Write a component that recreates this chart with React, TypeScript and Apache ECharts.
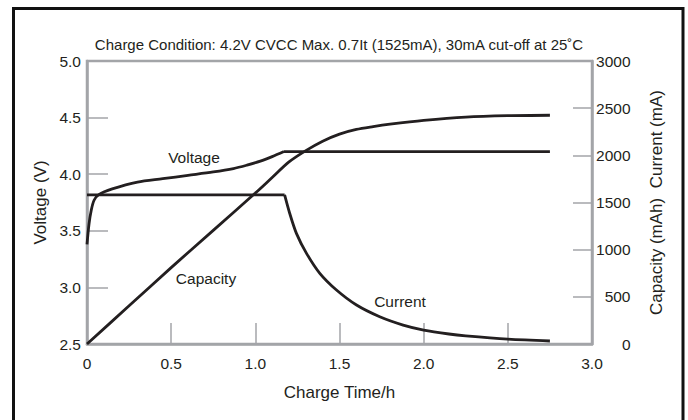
import React, { useEffect, useRef } from "react";
import * as echarts from "echarts";

const xTicks = [0, 0.5, 1.0, 1.5, 2.0, 2.5, 3.0];
const voltageRise: [number, number][] = [
  [0, 3.38], [0.012, 3.56], [0.025, 3.68], [0.042, 3.77], [0.07, 3.82],
  [0.15, 3.87], [0.3, 3.93], [0.45, 3.96], [0.6, 3.99], [0.75, 4.02],
  [0.87, 4.05], [0.95, 4.08], [1.03, 4.115], [1.1, 4.155], [1.17, 4.2],
];
const voltageHold: [number, number][] = [[1.17, 4.2], [2.75, 4.2]];
const currentHold: [number, number][] = [[0, 1580], [1.174, 1580]];
const currentTaper: [number, number][] = [
  [1.174, 1580], [1.204, 1386], [1.244, 1173], [1.304, 961], [1.383, 749],
  [1.482, 572], [1.601, 413], [1.739, 289], [1.878, 201], [2.0, 148],
  [2.15, 106], [2.25, 86], [2.5, 51], [2.75, 32],
];
const capacity: [number, number][] = [
  [0, 0], [0.25, 405], [0.5, 810], [0.75, 1205], [1.0, 1600], [1.1, 1765],
  [1.2, 1930], [1.3, 2050], [1.4, 2150], [1.5, 2225], [1.6, 2275],
  [1.7, 2305], [1.8, 2330], [2.0, 2370], [2.25, 2405], [2.5, 2420], [2.75, 2425],
];

const TXT = "#231f20";
const GRAY = "#a3a5a8";
const FONT = "'Liberation Sans', Arial, sans-serif";

export default function App() {
  const ref = useRef<HTMLDivElement>(null);
  useEffect(() => {
    document.body.style.margin = "0";
    const chart = echarts.init(ref.current!, undefined, { renderer: "svg" });
    const lineStyle = { color: TXT, width: 2.8 };
    const common = { type: "line", symbol: "none", lineStyle, silent: true };
    const lbl = { fontSize: 15.5, color: TXT, fontFamily: FONT };
    const nm = { fontSize: 17, color: TXT, fontFamily: FONT };
    chart.setOption({
      animation: false,
      backgroundColor: "#fff",
      textStyle: { fontFamily: FONT, color: TXT },
      grid: { left: 87, right: 96, top: 61, bottom: 76, show: true, borderColor: GRAY, borderWidth: 2.5 },
      graphic: [
        { type: "rect", shape: { x: 13.5, y: 8.5, width: 669.5, height: 440 }, style: { fill: "none", stroke: "#111", lineWidth: 3 } },
        { type: "text", x: 339, y: 44, style: { text: "Charge Condition: 4.2V CVCC Max. 0.7It (1525mA), 30mA cut-off at 25˚C", font: `15px ${FONT}`, fill: TXT, align: "center", verticalAlign: "middle" } },
        { type: "text", x: 194, y: 157, style: { text: "Voltage", font: `15.5px ${FONT}`, fill: TXT, align: "center", verticalAlign: "middle" } },
        { type: "text", x: 206, y: 278, style: { text: "Capacity", font: `15.5px ${FONT}`, fill: TXT, align: "center", verticalAlign: "middle" } },
        { type: "text", x: 400, y: 301, style: { text: "Current", font: `15.5px ${FONT}`, fill: TXT, align: "center", verticalAlign: "middle" } },
      ],
      xAxis: {
        type: "value", min: xTicks[0], max: xTicks[xTicks.length - 1], interval: 0.5,
        name: "Charge Time/h", nameLocation: "middle", nameGap: 40, nameTextStyle: nm,
        axisLine: { show: true, onZero: false, lineStyle: { color: GRAY, width: 2.5 } },
        axisTick: { show: true, inside: true, length: 21, lineStyle: { color: GRAY, width: 1.5 } },
        axisLabel: { ...lbl, margin: 11, formatter: (v: number) => (v === 0 ? "0" : v.toFixed(1)) },
        splitLine: { show: false },
      },
      yAxis: [
        {
          type: "value", min: 2.5, max: 5.0, interval: 0.5, position: "left",
          name: "Voltage (V)", nameLocation: "middle", nameGap: 37, nameRotate: 90, nameTextStyle: nm,
          axisLine: { show: true, lineStyle: { color: GRAY, width: 2.5 } },
          axisTick: { show: true, inside: true, length: 21, lineStyle: { color: GRAY, width: 1.5 } },
          axisLabel: { ...lbl, margin: 6, formatter: (v: number) => v.toFixed(1) },
          splitLine: { show: false },
        },
        {
          type: "value", min: 0, max: 3000, interval: 500, position: "right",
          name: "Capacity (mAh)  Current (mA)", nameLocation: "middle", nameGap: 56, nameRotate: 90, nameTextStyle: nm,
          axisLine: { show: true, lineStyle: { color: GRAY, width: 2.5 } },
          axisTick: { show: true, inside: true, length: 19, lineStyle: { color: GRAY, width: 1.5 } },
          axisLabel: { ...lbl, margin: 38.5, align: "right", formatter: (v: number) => String(v) },
          splitLine: { show: false },
        },
      ],
      series: [
        { ...common, name: "Voltage", yAxisIndex: 0, data: voltageRise, smooth: 0.3 },
        { ...common, name: "Voltage hold", yAxisIndex: 0, data: voltageHold },
        { ...common, name: "Current", yAxisIndex: 1, data: currentHold },
        { ...common, name: "Current taper", yAxisIndex: 1, data: currentTaper, smooth: 0.3 },
        { ...common, name: "Capacity", yAxisIndex: 1, data: capacity, smooth: 0.3 },
      ],
    });
    return () => chart.dispose();
  }, []);
  return <div ref={ref} style={{ position: "fixed", left: 0, top: 0, width: 688, height: 420 }} />;
}
